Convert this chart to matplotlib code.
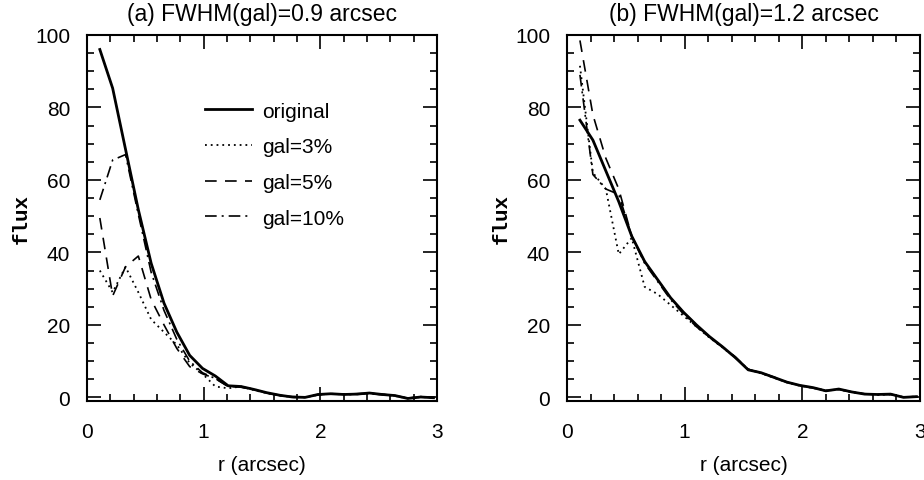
import matplotlib
matplotlib.use("Agg")
import matplotlib.pyplot as plt
from matplotlib import font_manager as fm
from matplotlib.ticker import MultipleLocator

names = {f.name for f in fm.fontManager.ttflist}
SANS = 'Liberation Sans Narrow' if 'Liberation Sans Narrow' in names else 'Liberation Sans'
plt.rcParams['font.family'] = [SANS, 'DejaVu Sans']

r = [round(0.11 * k, 2) for k in range(1, 28)]

left_original = [96, 85.3, 68.5, 51.8, 37, 26, 18, 11.6, 8, 5.9, 3.2, 3.0, 2.2, 1.3, 0.6, 0.1, 0.0,
                 0.8, 1.0, 0.8, 0.9, 1.2, 0.8, 0.5, -0.3, 0.1, -0.1]
left_gal3 = [35, 29, 36, 29, 21.5, 18, 14.5, 9.5, 6.5, 3.0, 2.5, 3.0, 2.0, 1.2, 0.5, 0.1, 0.0,
             0.7, 1.0, 0.8, 0.9, 1.1, 0.8, 0.4, -0.3, 0.1, -0.1]
left_gal5 = [49.5, 28, 36, 39, 27, 20, 13.5, 8.5, 6.5, 5.2, 3.0, 2.8, 2.1, 1.3, 0.6, 0.0, 0.1,
             0.8, 0.9, 0.9, 1.0, 1.1, 0.7, 0.5, -0.2, 0.1, 0.0]
left_gal10 = [54.5, 65.5, 67, 50.5, 34.5, 24, 16, 10, 6.8, 5.2, 3.0, 2.9, 2.3, 1.2, 0.5, 0.2, 0.1,
              0.7, 1.0, 0.9, 0.8, 1.1, 0.9, 0.4, -0.2, 0.2, 0.0]

right_original = [76.5, 71, 62.5, 54, 44.5, 37.5, 32.5, 27.5, 23.5, 20, 16.8, 14, 11, 7.6, 6.8, 5.5,
                  4.2, 3.3, 2.7, 1.8, 2.3, 1.5, 0.9, 0.8, 0.9, 0.0, 0.2]
right_gal3 = [91.5, 62, 57.5, 39.5, 44, 30.5, 28.5, 25.5, 22.5, 19.5, 16.5, 13.8, 11, 7.8, 6.6, 5.4,
              4.1, 3.2, 2.6, 1.9, 2.2, 1.4, 1.0, 0.7, 0.8, 0.1, 0.2]
right_gal5 = [98.5, 78, 66, 57.5, 44.5, 37.5, 32.5, 27.5, 23.5, 20, 16.6, 14, 11.2, 7.7, 6.8, 5.6,
              4.2, 3.3, 2.6, 1.8, 2.3, 1.5, 0.9, 0.8, 0.8, 0.1, 0.2]
right_gal10 = [89, 61.5, 57.5, 56, 44.5, 37, 32, 27, 23, 19.5, 16.6, 13.9, 11, 7.7, 6.7, 5.5,
               4.1, 3.3, 2.7, 1.8, 2.2, 1.5, 1.0, 0.8, 0.9, 0.0, 0.2]

titles = ['(a) FWHM(gal)=0.9 arcsec', '(b) FWHM(gal)=1.2 arcsec']
labels = ['original', 'gal=3%', 'gal=5%', 'gal=10%']
xticks = [0, 1, 2, 3]
yticks = [0, 20, 40, 60, 80, 100]

fig = plt.figure(figsize=(9.24, 4.81), dpi=100)
axL = fig.add_axes([87/924, 1-402/481, 350/924, 366/481])
axR = fig.add_axes([567/924, 1-402/481, 353/924, 366/481])

styles = [dict(ls='-', lw=2.0), dict(ls=(0, (1, 2.2)), lw=1.3),
          dict(ls=(0, (7, 5)), lw=1.2), dict(ls=(0, (7, 3, 1.2, 3)), lw=1.2)]

for ax, data, title in [(axL, [left_original, left_gal3, left_gal5, left_gal10], titles[0]),
                        (axR, [right_original, right_gal3, right_gal5, right_gal10], titles[1])]:
    for d, st, lab in zip(data, styles, labels):
        ax.plot(r, d, color='black', label=lab, **st)
    ax.set_xlim(0, 3)
    ax.set_ylim(-1, 100)
    ax.set_xticks(xticks)
    ax.set_yticks(yticks)
    ax.xaxis.set_minor_locator(MultipleLocator(0.2))
    ax.yaxis.set_minor_locator(MultipleLocator(5))
    ax.tick_params(which='both', direction='in', top=True, right=True, width=1.2)
    ax.tick_params(which='major', length=10, labelsize=15)
    ax.tick_params(axis='x', which='major', pad=15)
    ax.tick_params(axis='y', which='major', pad=12)
    ax.tick_params(which='minor', length=5)
    for s in ax.spines.values():
        s.set_linewidth(1.5)
    ax.set_title(title, fontsize=16.5, pad=11)
    ax.set_xlabel('r (arcsec)', fontsize=15, labelpad=10)
    ax.set_ylabel('flux', fontsize=15, family=['Liberation Mono', 'DejaVu Sans Mono'],
                  fontweight='bold')
    ax.yaxis.set_label_coords(-0.16, 0.5)

axL.legend(loc='upper left', bbox_to_anchor=(0.337, 0.818), frameon=False, fontsize=15,
           handlelength=2.25, handletextpad=0.5, labelspacing=0.8, borderpad=0,
           borderaxespad=0)

fig.savefig('out.png', dpi=100)
